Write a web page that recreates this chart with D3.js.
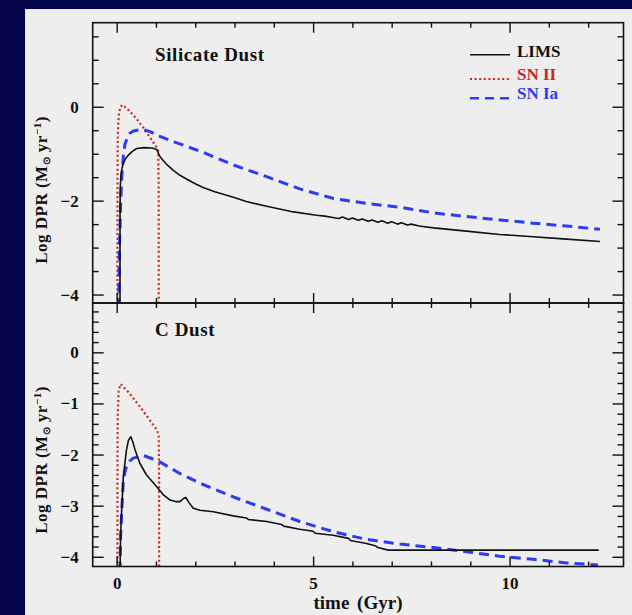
<!DOCTYPE html>
<html>
<head>
<meta charset="utf-8">
<script src="https://cdn.jsdelivr.net/npm/d3@7"></script>
<style>
  html, body { margin: 0; padding: 0; background: #03034a; }
  svg { display: block; }
</style>
</head>
<body>
<svg id="chart" width="632" height="615"></svg>
<script>
// ---- Tick positions -------------------------------------------------------
const timeMajorTicks = [0, 5, 10];
const timeMinorTicks = d3.range(0, 13, 1);
const silicateMajorTicks = [-4, -2, 0];
const silicateMinorTicks = d3.range(-8, 4).map(i => i * 0.5);
const carbonMajorTicks = [-4, -3, -2, -1, 0];
const carbonMinorTicks = d3.range(-20, 5).map(i => i * 0.2);

// ---- Dust production rates: [time (Gyr), log DPR (Msun/yr)] ---------------
// Silicate dust
const silicateLIMS = [
  [0.085, -4.3], [0.085, -2.5], [0.09, -1.75], [0.11, -1.45], [0.14, -1.3],
  [0.17, -1.2], [0.23, -1.1], [0.3, -1.03], [0.4, -0.95], [0.51, -0.89],
  [0.7, -0.87], [0.9, -0.88], [1.02, -0.91], [1.1, -1.06], [1.2, -1.16],
  [1.3, -1.25], [1.45, -1.36], [1.61, -1.46], [1.8, -1.55], [2.0, -1.64],
  [2.2, -1.72], [2.5, -1.81], [2.97, -1.93], [3.3, -2.02], [3.82, -2.12],
  [4.5, -2.24], [5.09, -2.31], [5.3, -2.33], [5.5, -2.36], [5.65, -2.38],
  [5.75, -2.35], [5.9, -2.40], [6.0, -2.37], [6.15, -2.42], [6.25, -2.39],
  [6.4, -2.44], [6.5, -2.41], [6.65, -2.46], [6.75, -2.43], [6.9, -2.48],
  [7.0, -2.45], [7.15, -2.50], [7.25, -2.47], [7.4, -2.52], [7.5, -2.50],
  [7.7, -2.54], [8.06, -2.58], [8.9, -2.65], [9.75, -2.72], [10.6, -2.77],
  [11.45, -2.82], [12.3, -2.87]
];
const silicateSNII = [
  [0.02, -4.3], [0.02, -2.0], [0.025, -1.0], [0.03, -0.6], [0.045, -0.3],
  [0.06, -0.12], [0.1, 0.0], [0.15, 0.04], [0.3, -0.07], [0.5, -0.25],
  [0.7, -0.47], [0.9, -0.72], [1.03, -0.88], [1.06, -0.95], [1.07, -2.0],
  [1.07, -4.3]
];
const silicateSNIa = [
  [0.05, -4.3], [0.07, -3.0], [0.1, -2.1], [0.13, -1.5], [0.17, -1.05],
  [0.21, -0.8], [0.28, -0.64], [0.34, -0.56], [0.45, -0.51], [0.64, -0.48],
  [0.85, -0.53], [1.1, -0.63], [1.5, -0.76], [2.2, -0.97], [2.97, -1.24],
  [3.82, -1.49], [4.66, -1.75], [5.5, -1.95], [6.36, -2.06], [7.21, -2.14],
  [8.06, -2.26], [8.91, -2.34], [9.75, -2.41], [10.6, -2.48], [11.45, -2.54],
  [12.3, -2.61]
];
// Carbon dust
const carbonLIMS = [
  [0.085, -4.3], [0.1, -3.6], [0.12, -3.2], [0.17, -2.43], [0.25, -1.91],
  [0.3, -1.72], [0.36, -1.65], [0.41, -1.75], [0.47, -1.91], [0.59, -2.17],
  [0.76, -2.40], [1.02, -2.63], [1.19, -2.79], [1.36, -2.89], [1.5, -2.92],
  [1.61, -2.92], [1.7, -2.86], [1.76, -2.84], [1.85, -2.95], [1.95, -3.05],
  [2.12, -3.09], [2.46, -3.12], [2.97, -3.2], [3.3, -3.24], [3.35, -3.27],
  [3.82, -3.31], [4.2, -3.37], [4.25, -3.40], [4.66, -3.46], [5.0, -3.50],
  [5.05, -3.54], [5.51, -3.58], [5.9, -3.64], [5.95, -3.68], [6.36, -3.74],
  [6.6, -3.79], [6.65, -3.82], [6.91, -3.87], [12.27, -3.87]
];
const carbonSNII = [
  [0.02, -4.3], [0.02, -2.5], [0.025, -1.5], [0.03, -1.2], [0.05, -0.75],
  [0.1, -0.62], [0.3, -0.78], [0.59, -1.06], [0.8, -1.28], [0.95, -1.44],
  [1.03, -1.52], [1.07, -1.65], [1.08, -2.5], [1.08, -4.3]
];
const carbonSNIa = [
  [0.085, -4.3], [0.1, -3.6], [0.13, -3.09], [0.17, -2.5], [0.21, -2.34],
  [0.25, -2.24], [0.33, -2.13], [0.42, -2.07], [0.68, -2.02], [1.02, -2.11],
  [1.61, -2.37], [2.12, -2.56], [2.97, -2.83], [3.82, -3.07], [4.66, -3.31],
  [5.51, -3.51], [6.36, -3.66], [7.21, -3.75], [8.06, -3.82], [8.91, -3.90],
  [9.75, -3.99], [10.6, -4.05], [11.45, -4.12], [12.25, -4.16]
];

const legendLabels = ["LIMS", "SN II", "SN Ia"];

// ---- Styles ---------------------------------------------------------------
const FONT = "'Liberation Serif', 'Times New Roman', serif";
const styles = {
  lims: { stroke: "#111", width: 1.6, dash: null },
  snII: { stroke: "#c8281e", width: 2.2, dash: "2,2.6" },
  snIa: { stroke: "#2b3cf2", width: 3, dash: "10,6" }
};

const svg = d3.select("#chart");

// light sheet behind the figure
svg.append("rect").attr("x", 25).attr("y", 9).attr("width", 607).attr("height", 606)
  .attr("fill", "#eeeeee");

const left = 92.7, right = 623.5;
const x = d3.scaleLinear().domain([-0.61, 12.9]).range([left, right]);

const panels = [
  {
    id: "sil", label: "Silicate Dust", top: 22.7, bottom: 303,
    domain: [-4.18, 1.79], major: silicateMajorTicks, minor: silicateMinorTicks,
    series: { lims: silicateLIMS, snII: silicateSNII, snIa: silicateSNIa },
    labelY: 61, titleY: 190, showX: false
  },
  {
    id: "carb", label: "C Dust", top: 303, bottom: 566.5,
    domain: [-4.19, 0.965], major: carbonMajorTicks, minor: carbonMinorTicks,
    series: { lims: carbonLIMS, snII: carbonSNII, snIa: carbonSNIa },
    labelY: 336, titleY: 460, showX: true
  }
];

const fmt = d => d < 0 ? "\u2212" + Math.abs(d) : String(d);

function styleAxis(g) {
  g.select(".domain").remove();
  g.selectAll(".tick line").attr("stroke", "#111").attr("stroke-width", 1.4);
  g.selectAll(".tick text").attr("fill", "#111")
    .style("font-family", FONT).style("font-weight", "bold").style("font-size", "17px");
}

panels.forEach(p => {
  const y = d3.scaleLinear().domain(p.domain).range([p.bottom, p.top]);
  const g = svg.append("g");

  g.append("clipPath").attr("id", "clip-" + p.id)
    .append("rect").attr("x", left).attr("y", p.top)
    .attr("width", right - left).attr("height", p.bottom - p.top);

  // curves
  const line = d3.line().x(d => x(d[0])).y(d => y(d[1]));
  const plot = g.append("g").attr("clip-path", `url(#clip-${p.id})`);
  ["snII", "snIa", "lims"].forEach(k => {
    const s = styles[k];
    plot.append("path").datum(p.series[k])
      .attr("d", line).attr("fill", "none")
      .attr("stroke", s.stroke).attr("stroke-width", s.width)
      .attr("stroke-dasharray", s.dash)
      .attr("stroke-linejoin", "round");
  });

  // x ticks, inward on top and bottom edges
  [[p.top, 1], [p.bottom, -1]].forEach(([yy, dir]) => {
    const isLabelled = p.showX && dir === -1;
    const maj = (dir === 1 ? d3.axisBottom(x).tickSize(10) : d3.axisTop(x).tickSize(10))
      .tickValues(timeMajorTicks).tickSizeOuter(0).tickFormat("");
    g.append("g").attr("transform", `translate(0,${yy})`).call(maj).call(styleAxis);
    const mn = (dir === 1 ? d3.axisBottom(x) : d3.axisTop(x))
      .tickValues(timeMinorTicks.filter(t => !timeMajorTicks.includes(t)))
      .tickSize(5).tickSizeOuter(0).tickFormat("");
    g.append("g").attr("transform", `translate(0,${yy})`).call(mn).call(styleAxis);
    if (isLabelled) {
      const lab = d3.axisBottom(x).tickValues(timeMajorTicks).tickSize(0)
        .tickPadding(10).tickFormat(fmt);
      g.append("g").attr("transform", `translate(0,${yy})`).call(lab).call(styleAxis);
    }
  });

  // y ticks, inward on left and right edges
  const minorOnly = p.minor.filter(v => !p.major.some(m => Math.abs(m - v) < 1e-6));
  const yMaj = d3.axisLeft(y).tickValues(p.major).tickSize(-11).tickSizeOuter(0)
    .tickPadding(14).tickFormat(fmt);
  g.append("g").attr("transform", `translate(${left},0)`).call(yMaj).call(styleAxis);
  const yMin = d3.axisLeft(y).tickValues(minorOnly)
    .tickSize(-6).tickSizeOuter(0).tickFormat("");
  g.append("g").attr("transform", `translate(${left},0)`).call(yMin).call(styleAxis);
  const yMajR = d3.axisRight(y).tickValues(p.major).tickSize(-11).tickSizeOuter(0).tickFormat("");
  g.append("g").attr("transform", `translate(${right},0)`).call(yMajR).call(styleAxis);
  const yMinR = d3.axisRight(y).tickValues(minorOnly)
    .tickSize(-6).tickSizeOuter(0).tickFormat("");
  g.append("g").attr("transform", `translate(${right},0)`).call(yMinR).call(styleAxis);

  // frame
  g.append("rect").attr("x", left).attr("y", p.top)
    .attr("width", right - left).attr("height", p.bottom - p.top)
    .attr("fill", "none").attr("stroke", "#111").attr("stroke-width", 1.6);

  // panel label
  g.append("text").attr("x", 155).attr("y", p.labelY).text(p.label)
    .attr("fill", "#111").style("font-family", FONT).style("font-weight", "bold")
    .style("font-size", "19px").style("letter-spacing", "0.6px");

  // y-axis title
  const t = g.append("text").attr("transform", `translate(47,${p.titleY}) rotate(-90)`)
    .attr("text-anchor", "middle").attr("fill", "#111")
    .style("font-family", FONT).style("font-weight", "bold").style("font-size", "17px")
    .style("letter-spacing", "0.5px");
  t.append("tspan").text("Log DPR (M");
  t.append("tspan").text("\u2299").style("font-size", "10px").attr("dy", 3);
  t.append("tspan").text(" yr").attr("dy", -3);
  t.append("tspan").text("\u22121").style("font-size", "11px").attr("dy", -6);
  t.append("tspan").text(")").attr("dy", 6);
});

// x-axis title
svg.append("text").attr("x", 358).attr("y", 609).attr("text-anchor", "middle")
  .attr("fill", "#111").style("font-family", FONT).style("font-weight", "bold")
  .style("font-size", "19px").style("word-spacing", "3px").text("time (Gyr)");

// legend
const legendKeys = ["lims", "snII", "snIa"];
const legendLineY = [54.7, 79, 98.3];
const legendTextY = [56.7, 80, 98.5];
const legendTextColor = ["#111", "#c8281e", "#2b3cf2"];
const lg = svg.append("g");
legendKeys.forEach((k, i) => {
  const s = styles[k];
  lg.append("line").attr("x1", 470).attr("x2", 510)
    .attr("y1", legendLineY[i]).attr("y2", legendLineY[i])
    .attr("stroke", s.stroke).attr("stroke-width", k === "snIa" ? 2.6 : s.width)
    .attr("stroke-dasharray", k === "snIa" ? "9,6" : s.dash);
  lg.append("text").attr("x", 517).attr("y", legendTextY[i]).text(legendLabels[i])
    .attr("fill", legendTextColor[i]).style("font-family", FONT)
    .style("font-weight", "bold").style("font-size", "17px");
});
</script>
</body>
</html>
